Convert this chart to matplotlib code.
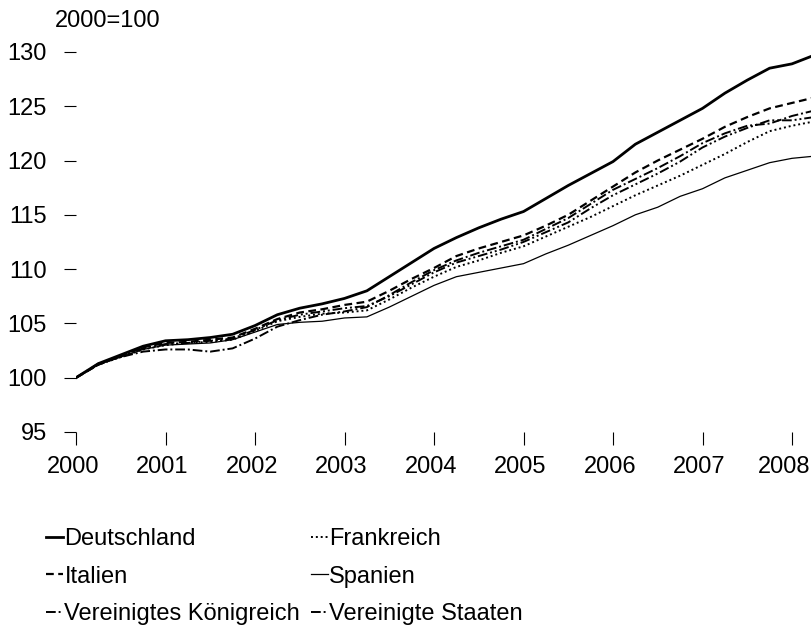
import matplotlib
matplotlib.use("Agg")
import matplotlib.pyplot as plt
import matplotlib.transforms as mtransforms
import numpy as np

plt.rcParams['font.family'] = ['Liberation Sans', 'DejaVu Sans']

# quarterly, 2000Q1 .. 2008Q2
quarters = [2000 + 0.25 * i for i in range(34)]

deutschland = [100.0, 101.3, 102.1, 102.9, 103.4, 103.5, 103.7, 104.0, 104.8, 105.8,
               106.4, 106.8, 107.3, 108.0, 109.3, 110.6, 111.9, 112.9, 113.8, 114.6,
               115.3, 116.5, 117.7, 118.8, 119.9, 121.5, 122.6, 123.7, 124.8, 126.2,
               127.4, 128.5, 128.9, 129.7]
frankreich = [100.0, 101.2, 101.9, 102.6, 103.0, 103.2, 103.3, 103.5, 104.3, 105.2,
              105.6, 105.9, 106.0, 106.2, 107.2, 108.3, 109.3, 110.2, 110.8, 111.5,
              112.1, 113.0, 113.9, 114.8, 115.8, 116.8, 117.7, 118.6, 119.6, 120.6,
              121.7, 122.7, 123.2, 123.6]
italien = [100.0, 101.2, 102.0, 102.8, 103.2, 103.3, 103.5, 103.7, 104.5, 105.4,
           106.0, 106.3, 106.7, 107.0, 108.0, 109.1, 110.1, 111.2, 111.9, 112.5,
           113.1, 114.0, 115.0, 116.3, 117.6, 118.9, 120.0, 121.0, 122.0, 123.1,
           124.0, 124.8, 125.3, 125.8]
spanien = [100.0, 101.2, 101.9, 102.6, 103.0, 103.1, 103.2, 103.5, 104.2, 104.9,
           105.1, 105.2, 105.5, 105.6, 106.5, 107.5, 108.5, 109.3, 109.7, 110.1,
           110.5, 111.4, 112.2, 113.1, 114.0, 115.0, 115.7, 116.7, 117.4, 118.4,
           119.1, 119.8, 120.2, 120.4]
vk = [100.0, 101.2, 102.0, 102.7, 103.1, 103.2, 103.4, 103.6, 104.4, 105.3,
      105.8, 106.1, 106.4, 106.6, 107.5, 108.6, 109.7, 110.6, 111.2, 111.8,
      112.5, 113.4, 114.3, 115.6, 116.8, 117.8, 118.8, 119.9, 121.2, 122.2,
      123.0, 123.7, 123.7, 124.0]
vs = [100.0, 101.3, 101.9, 102.4, 102.6, 102.6, 102.4, 102.7, 103.6, 104.7,
      105.3, 105.8, 106.1, 106.5, 107.6, 108.8, 109.9, 110.8, 111.5, 112.1,
      112.7, 113.7, 114.7, 116.0, 117.3, 118.3, 119.3, 120.4, 121.6, 122.5,
      123.2, 123.4, 124.1, 124.6]

series_names = ["Deutschland", "Italien", "Vereinigtes Königreich",
                "Frankreich", "Spanien", "Vereinigte Staaten"]
y_ticks = [95, 100, 105, 110, 115, 120, 125, 130]
x_ticks = list(range(2000, 2009))
x_labels = [str(y) for y in x_ticks]

FS = 17
W, H = 811, 626
fig = plt.figure(figsize=(W / 100, H / 100), dpi=100)
x0, x1 = 76, 811
y_top_val, y_bot_val = 130.5, 95.0
px_per_unit = 10.86
y95 = 432.0
ytop = y95 - (y_top_val - y_bot_val) * px_per_unit
ax = fig.add_axes([x0 / W, (H - y95) / H, (x1 - x0) / W, (y95 - ytop) / H])
ax.set_xlim(2000, 2000 + (x1 - x0) / 89.5)
ax.set_ylim(y_bot_val, y_top_val)

styles = {
    "Deutschland": dict(ls='-', lw=2.0),
    "Italien": dict(ls=(0, (3.5, 2)), lw=1.6),
    "Vereinigtes Königreich": dict(ls=(0, (5, 1.5, 1, 1.5, 1, 1.5)), lw=1.4),
    "Frankreich": dict(ls=(0, (1, 1.5)), lw=1.4),
    "Spanien": dict(ls='-', lw=0.9),
    "Vereinigte Staaten": dict(ls=(0, (5, 1.5, 1, 1.5)), lw=1.4),
}
data = {"Deutschland": deutschland, "Italien": italien, "Vereinigtes Königreich": vk,
        "Frankreich": frankreich, "Spanien": spanien, "Vereinigte Staaten": vs}

handles = []
for name in series_names:
    h, = ax.plot(quarters, data[name], color='black', label=name, **styles[name])
    handles.append(h)

for s in ax.spines.values():
    s.set_visible(False)

ax.set_yticks(y_ticks)
ax.set_xticks(x_ticks)
ax.tick_params(axis='both', direction='out', length=9, width=0.8, color='black',
               labelsize=FS)
ax.tick_params(axis='y', pad=12)
ax.tick_params(axis='x', labelbottom=False)

# x tick labels drawn as texts (last one kept inside the figure)
xtrans = ax.get_xaxis_transform()
for yr, lab in zip(x_ticks, x_labels):
    if yr == x_ticks[-1]:
        t = fig.text(810 / W, 0, lab, fontsize=FS, ha='right', va='top')
        t.set_transform(mtransforms.blended_transform_factory(fig.transFigure, ax.transAxes)
                        + mtransforms.ScaledTranslation(0, -24 / 100, fig.dpi_scale_trans))
        t.set_position((810 / W, 0))
    else:
        ax.text(yr, 0, lab, fontsize=FS, ha='center', va='top',
                transform=xtrans + mtransforms.ScaledTranslation(-3 / 100, -24 / 100,
                                                                  fig.dpi_scale_trans),
                clip_on=False)

fig.text(55 / W, 1 - 21 / H, "2000=100", fontsize=FS, va='center', ha='left')

leg = fig.legend(handles=handles, loc='upper left', bbox_to_anchor=(46 / W, 1 - 528 / H),
                 ncol=2, frameon=False, fontsize=FS, handlelength=0.72,
                 handletextpad=0.06, columnspacing=0.45, labelspacing=0.66,
                 borderaxespad=0, borderpad=0)

fig.savefig("out.png", dpi=100)
